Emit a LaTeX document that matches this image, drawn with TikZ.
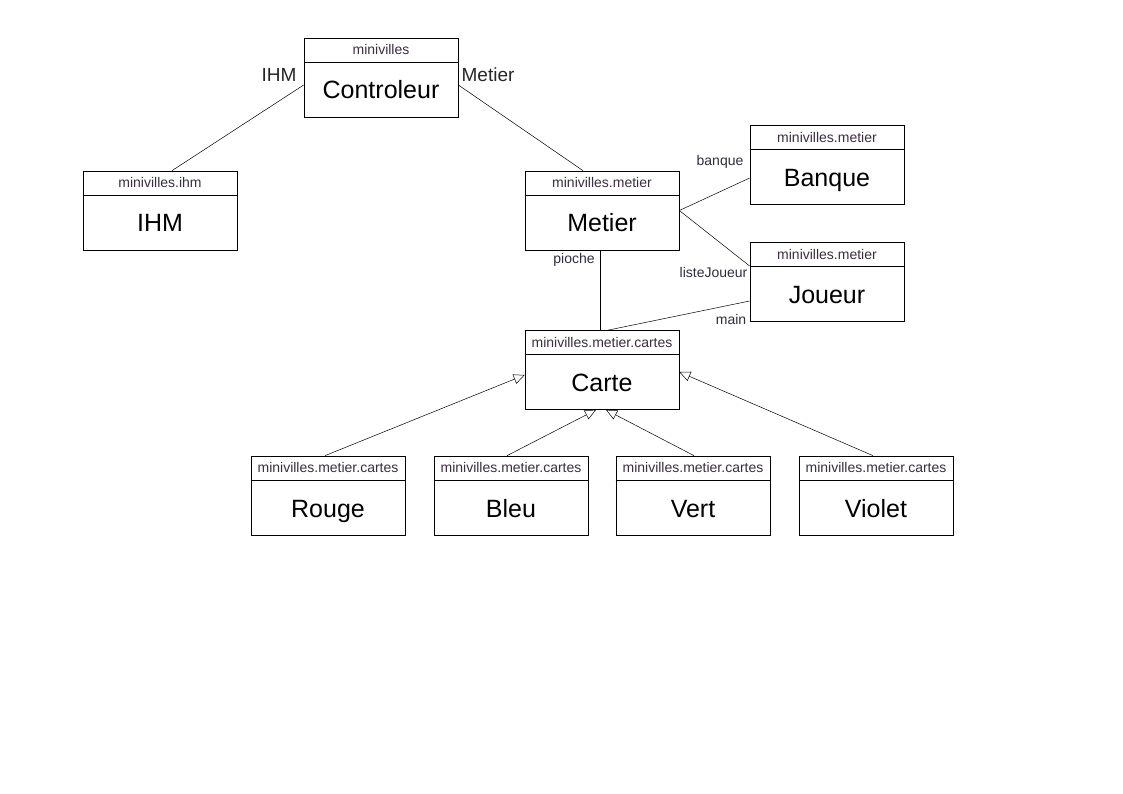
\documentclass[tikz,border=0pt]{standalone}
\usepackage{fontspec}
\setmainfont{Liberation Sans}
\usetikzlibrary{calc,arrows.meta}

\definecolor{paquetgris}{RGB}{60,45,65}
\definecolor{rolegris}{RGB}{45,45,60}

\newcommand{\classe}[4]{%
  \node[classe] (#1) at (#2) {};
  \draw[thin] ($(#1.north west)+(0,24.5)$) -- ($(#1.north east)+(0,24.5)$);
  \node[paquet] (#1p) at ($(#1.north)+(0,12)$) {#3};
  \node[nom] (#1n) at ($(#1.center)+(0,12.5)$) {#4};
}

\begin{document}
\begin{tikzpicture}[x=1pt,y=-1pt,
    classe/.style={draw,fill=white,line width=0.7pt,minimum width=154pt,minimum height=79pt,inner sep=0pt},
    paquet/.style={inner sep=0pt,text height=10pt,text depth=0pt,text=paquetgris,font=\fontsize{14}{16}\selectfont},
    nom/.style={inner sep=0pt,text height=18pt,text depth=0pt,font=\fontsize{25}{30}\selectfont},
    grandrole/.style={inner sep=0pt,text=black!85,font=\fontsize{19}{22}\selectfont},
    petitrole/.style={inner sep=0pt,text=rolegris,font=\fontsize{14}{16}\selectfont},
    lien/.style={line width=0.5pt},
    herite/.style={line width=0.5pt,-{Triangle[open,length=11pt,width=10pt]}}]
  \useasboundingbox (0,0) rectangle (1123,794);

  \classe{ctrl}{381,77.5}{minivilles}{Controleur}
  \classe{ihm}{160,210.5}{minivilles.ihm}{IHM}
  \classe{metier}{602,210.5}{minivilles.metier}{Metier}
  \classe{banque}{827,165}{minivilles.metier}{Banque}
  \classe{joueur}{827,282}{minivilles.metier}{Joueur}
  \classe{carte}{602,370}{minivilles.metier.cartes}{Carte}
  \classe{rouge}{328,495.5}{minivilles.metier.cartes}{Rouge}
  \classe{bleu}{511,495.5}{minivilles.metier.cartes}{Bleu}
  \classe{vert}{693,495.5}{minivilles.metier.cartes}{Vert}
  \classe{violet}{876,495.5}{minivilles.metier.cartes}{Violet}

  % associations
  \draw[lien] ($(ctrl.west)+(0,7.5)$) -- ($(ihm.north)+(12,0)$);
  \draw[lien] ($(ctrl.east)+(0,7.5)$) -- ($(metier.north)+(-19,0)$);
  \draw[lien] (metier.east) -- ($(banque.west)+(0,13)$);
  \draw[lien] (metier.east) -- ($(joueur.west)+(0,-16)$);
  \draw[lien] ($(metier.south)+(-2,0)$) -- ($(carte.north)+(-2,0)$);
  \draw[lien] ($(joueur.west)+(0,19)$) -- ($(carte.north)+(6,0)$);

  \node[grandrole] (rihm) at (279,75) {IHM};
  \node[grandrole] (rmetier) at (488,75) {Metier};
  \node[petitrole] (rbanque) at (720,162) {banque};
  \node[petitrole] (rliste) at (713.5,272) {listeJoueur};
  \node[petitrole] (rpioche) at (574,260) {pioche};
  \node[petitrole] (rmain) at (731,319) {main};

  % heritage
  \draw[herite] ($(rouge.north)+(-3,0)$) -- ($(carte.west)+(0,5)$);
  \draw[herite] ($(bleu.north)+(-4,0)$) -- ($(carte.south)+(-6,0)$);
  \draw[herite] ($(vert.north)+(1,0)$) -- ($(carte.south)+(4,0)$);
  \draw[herite] ($(violet.north)+(-3,0)$) -- ($(carte.east)+(0,2)$);
\end{tikzpicture}
\end{document}
